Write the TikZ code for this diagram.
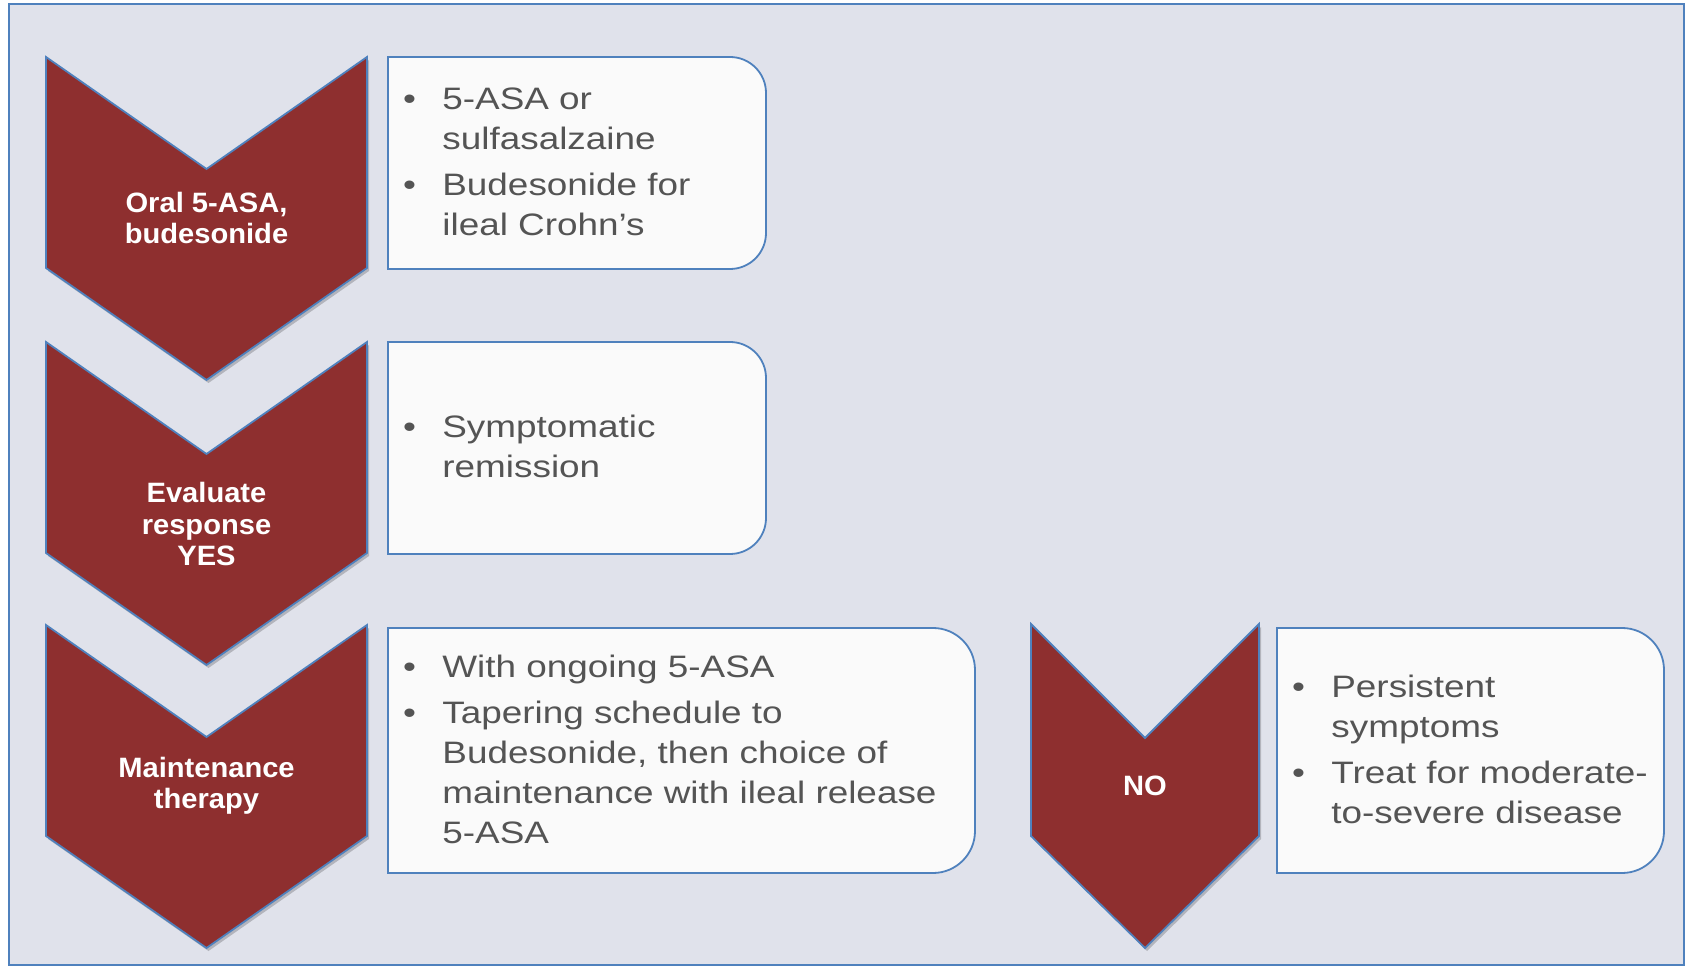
\documentclass[tikz,border=0pt]{standalone}
\usepackage{fontspec}
\setmainfont{Liberation Sans}
\newfontfamily\notefont{Liberation Sans}[FakeStretch=1.19]
\newfontfamily\chevronfont{Liberation Sans}[FakeStretch=1.04]
\usetikzlibrary{shadows}
\definecolor{slidebg}{RGB}{224,226,235}
\definecolor{chevronred}{RGB}{142,47,47}
\definecolor{edgeblue}{RGB}{79,129,189}
\definecolor{notegray}{RGB}{84,84,84}
\newcommand{\notebullet}{\makebox[19.7pt][l]{\textbullet}}
\newcommand{\noteindent}{\hspace*{19.7pt}}

\begin{document}
\begin{tikzpicture}[x=0.5pt,y=-0.5pt,
redchevron/.style={draw=edgeblue, line width=0.9pt, fill=chevronred, drop shadow={shadow xshift=1pt, shadow yshift=-1.5pt, fill=black, opacity=0.2}},
bluenotebox/.style={draw=edgeblue, line width=0.9pt, fill=white!98!black},
chevrontext/.style={text=white, align=center, font=\chevronfont\bfseries\fontsize{14}{15.7}\selectfont},
notetext/.style={anchor=west, inner sep=0pt, align=left, text=notegray, yshift=0.7pt, font=\notefont\fontsize{15.5}{20}\selectfont}
]
\useasboundingbox (0,0) rectangle (1687,967);
\fill[white] (0,0) rectangle (1687,967);
\draw[edgeblue, line width=1pt, fill=slidebg] (9,4) rectangle (1684,965);

%Chevrons
\draw[redchevron] (46,57) -- (206.5,169) -- (367,57) -- (367,268) -- (206.5,380) -- (46,268) -- cycle;
\draw[redchevron] (46,342) -- (206.5,454) -- (367,342) -- (367,553) -- (206.5,665) -- (46,553) -- cycle;
\draw[redchevron] (46,625) -- (206.5,737) -- (367,625) -- (367,836) -- (206.5,948) -- (46,836) -- cycle;
\draw[redchevron] (1031,624) -- (1145,738) -- (1259,624) -- (1259,836) -- (1145,948) -- (1031,836) -- cycle;

\node[chevrontext] (oral) at (206.5,218) {Oral 5-ASA,\\budesonide};
\node[chevrontext] (evaluate) at (206.5,524) {Evaluate\\response\\YES};
\node[chevrontext] (maint) at (206.5,786) {Maintenance\\therapy};
\node[chevrontext] (no) at (1145,786) {NO};

%Boxes
\draw[bluenotebox] (577,57) [rounded corners=18pt] -- (766,57) -- (766,269) -- (577,269) [sharp corners] -- (388,269) -- (388,57) -- cycle;
\draw[bluenotebox] (577,342) [rounded corners=18pt] -- (766,342) -- (766,554) -- (577,554) [sharp corners] -- (388,554) -- (388,342) -- cycle;
\draw[bluenotebox] (680,628) [rounded corners=21pt] -- (975,628) -- (975,873) -- (680,873) [sharp corners] -- (388,873) -- (388,628) -- cycle;
\draw[bluenotebox] (1470,628) [rounded corners=21pt] -- (1664,628) -- (1664,873) -- (1470,873) [sharp corners] -- (1277,873) -- (1277,628) -- cycle;

\node[notetext] (oralnote) at (402.6,163) {\notebullet 5-ASA or\\\noteindent sulfasalzaine\\[3pt]\notebullet Budesonide for\\\noteindent ileal Crohn’s};
\node[notetext] (evalnote) at (402.6,448) {\notebullet Symptomatic\\\noteindent remission};
\node[notetext] (maintnote) at (402.6,750.5) {\notebullet With ongoing 5-ASA\\[3pt]\notebullet Tapering schedule to\\\noteindent Budesonide, then choice of\\\noteindent maintenance with ileal release\\\noteindent 5-ASA};
\node[notetext] (nonote) at (1291.6,750.5) {\notebullet Persistent\\\noteindent symptoms\\[3pt]\notebullet Treat for moderate-\\\noteindent to-severe disease};

\end{tikzpicture}
\end{document}
